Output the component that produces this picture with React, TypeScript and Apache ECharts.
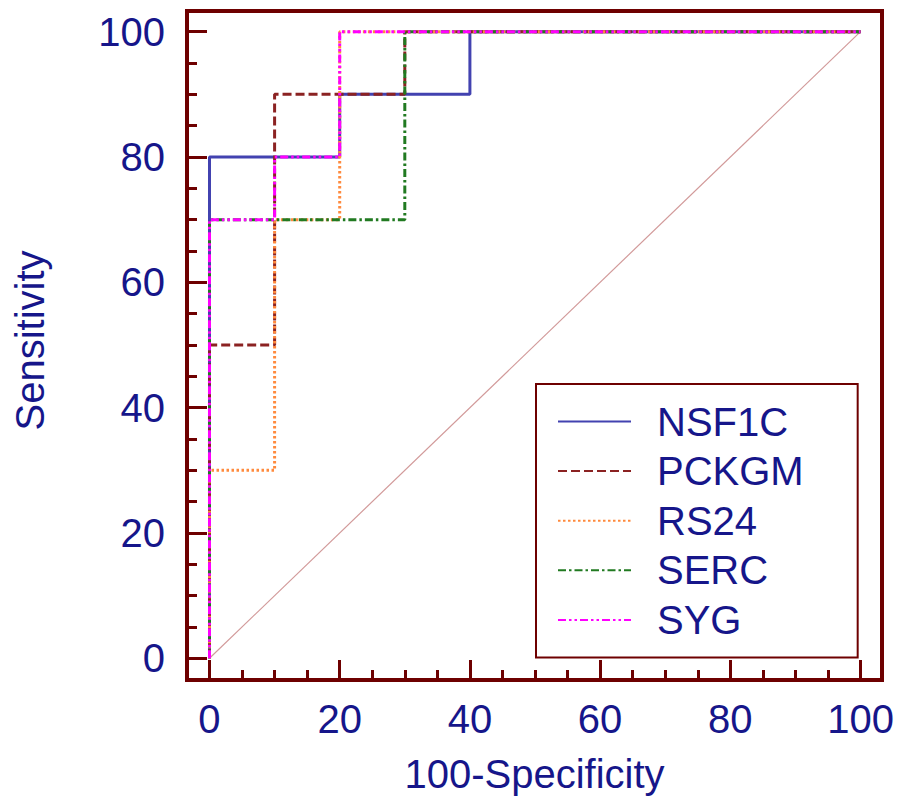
import React, { useEffect, useRef } from "react";
import * as echarts from "echarts";

// ROC curves: [100-Specificity, Sensitivity] corner points of each step curve
const nsf1cPoints: number[][] = [[0, 0], [0, 80], [20, 80], [20, 90], [40, 90], [40, 100], [100, 100]];
const pckgmPoints: number[][] = [[0, 0], [0, 50], [10, 50], [10, 90], [30, 90], [30, 100], [100, 100]];
const rs24Points: number[][] = [[0, 0], [0, 30], [10, 30], [10, 70], [20, 70], [20, 100], [100, 100]];
const sercPoints: number[][] = [[0, 0], [0, 70], [30, 70], [30, 100], [100, 100]];
const sygPoints: number[][] = [[0, 0], [0, 70], [10, 70], [10, 80], [20, 80], [20, 100], [100, 100]];
const referencePoints: number[][] = [[0, 0], [100, 100]];

const seriesNames = ["NSF1C", "PCKGM", "RS24", "SERC", "SYG"];
const majorTicks = [0, 20, 40, 60, 80, 100];
const minorTicks = [5, 10, 15, 25, 30, 35, 45, 50, 55, 65, 70, 75, 85, 90, 95];

const FRAME = "#6e0000";
const TEXT = "#16168a";
const FONT = "'Liberation Sans', Arial, sans-serif";

export default function App() {
  const ref = useRef<HTMLDivElement>(null);

  useEffect(() => {
    if (!ref.current) return;
    const chart = echarts.init(ref.current, undefined, { renderer: "svg" });

    // The plot frame sits a little outside the 0–100 data range on every side.
    const frame = { left: 187, top: 11, right: 882, bottom: 680 };
    const xRange = { min: -3.456, max: 103.3 };
    const yRange = { min: -3.463, max: 103.3 };

    const hiddenLine = { show: false, onZero: false };
    const majorTick = { show: true, inside: true, length: 20, customValues: majorTicks, lineStyle: { color: FRAME, width: 3 } };
    const minorTick = { show: true, inside: true, length: 10, customValues: minorTicks, lineStyle: { color: FRAME, width: 3 } };
    const labelStyle = { color: TEXT, fontFamily: FONT, fontSize: 40, customValues: majorTicks };
    const nameStyle = { color: TEXT, fontFamily: FONT, fontSize: 40 };

    const styles = [
      { color: "#4242b0", type: "solid" as any },
      { color: "#8b2222", type: [9, 4] },
      { color: "#ff8a3d", type: [2.5, 2.5] },
      { color: "#217a21", type: [8, 3, 2.5, 3] },
      { color: "#ff00ff", type: [8, 3, 2.5, 3, 2.5, 3] },
    ];
    const pointSets = [nsf1cPoints, pckgmPoints, rs24Points, sercPoints, sygPoints];

    chart.setOption({
      animation: false,
      backgroundColor: "#ffffff",
      grid: {
        left: frame.left,
        top: frame.top,
        right: 897 - frame.right,
        bottom: 801 - frame.bottom,
      },
      xAxis: [
        {
          type: "value",
          position: "bottom",
          ...xRange,
          axisLine: hiddenLine,
          axisTick: majorTick,
          splitLine: { show: false },
          axisLabel: { ...labelStyle, margin: 19 },
          name: "100-Specificity",
          nameLocation: "middle",
          nameGap: 74,
          nameTextStyle: nameStyle,
        },
        {
          type: "value",
          position: "bottom",
          ...xRange,
          axisLine: hiddenLine,
          axisTick: minorTick,
          splitLine: { show: false },
          axisLabel: { show: false },
        },
      ],
      yAxis: [
        {
          type: "value",
          position: "left",
          ...yRange,
          axisLine: hiddenLine,
          axisTick: majorTick,
          splitLine: { show: false },
          axisLabel: { ...labelStyle, margin: 22 },
          name: "Sensitivity",
          nameLocation: "middle",
          nameGap: 137,
          nameTextStyle: { ...nameStyle, padding: [0, 0, 0, 10] },
        },
        {
          type: "value",
          position: "left",
          ...yRange,
          axisLine: hiddenLine,
          axisTick: minorTick,
          splitLine: { show: false },
          axisLabel: { show: false },
        },
      ],
      legend: {
        orient: "vertical",
        left: 536,
        top: 384,
        data: seriesNames,
        itemWidth: 73,
        itemHeight: 14,
        itemGap: 9.6,
        padding: [17.5, 54, 17.5, 21],
        borderColor: FRAME,
        borderWidth: 2,
        backgroundColor: "#ffffff",
        itemStyle: { opacity: 0 },
        textStyle: { color: TEXT, fontFamily: FONT, fontSize: 40, lineHeight: 40, padding: [0, 0, 0, 21] },
      },
      graphic: [
        {
          type: "rect",
          shape: {
            x: frame.left,
            y: frame.top,
            width: frame.right - frame.left,
            height: frame.bottom - frame.top,
          },
          style: { fill: "none", stroke: FRAME, lineWidth: 4 },
          z: 10,
        },
      ],
      series: [
        {
          name: "reference",
          type: "line",
          data: referencePoints,
          symbol: "none",
          lineStyle: { color: "#d29a9a", width: 1.2 },
          silent: true,
          z: 1,
        },
        ...seriesNames.map((name, i) => ({
          name,
          type: "line",
          data: pointSets[i],
          symbol: "none",
          lineStyle: { color: styles[i].color, width: 3, type: styles[i].type },
          itemStyle: { color: styles[i].color },
          z: 2 + i,
        })),
      ],
    });

    return () => chart.dispose();
  }, []);

  return (
    <div
      ref={ref}
      style={{ position: "fixed", left: 0, top: 0, width: 897, height: 801, background: "#fff" }}
    />
  );
}
